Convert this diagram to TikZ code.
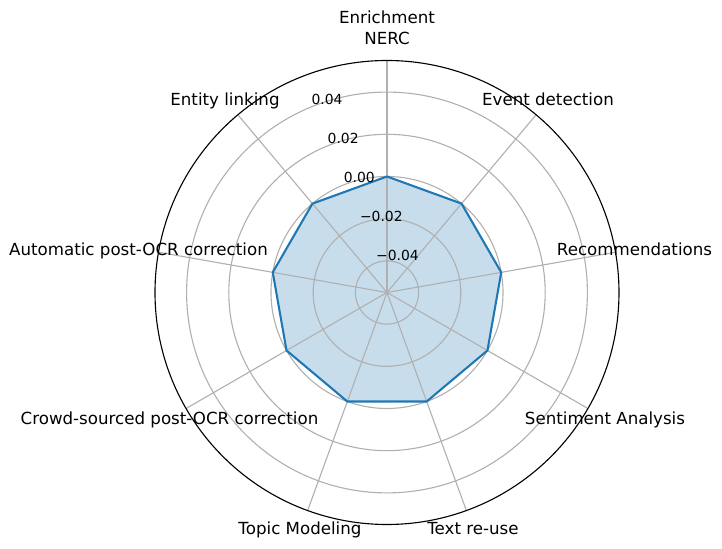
\documentclass[tikz,border=0pt]{standalone}
\usepackage{fontspec}
\setmainfont{DejaVu Sans}
\definecolor{mplblue}{HTML}{1F77B4}
\definecolor{gridgray}{HTML}{B0B0B0}
\colorlet{lightblue}{mplblue!25}
\usetikzlibrary{positioning}
\tikzstyle{gridline}=[draw=gridgray, line width=0.8pt]
\tikzstyle{axislabel}=[font=\fontsize{12}{15.6}\selectfont, anchor=base, inner sep=0pt]
\tikzstyle{ticklabel}=[font=\fontsize{10}{12}\selectfont, anchor=base west, inner sep=0pt, xshift=0.72pt, yshift=1.8pt]

\begin{document}
\begin{tikzpicture}[x=0.72pt, y=0.72pt]
  \useasboundingbox (-387,-256.5) rectangle (335,292.5);
  \coordinate (o) at (0,0);

  % values, all 0.00
  \foreach \a [count=\i] in {90,50,...,-230}
    \coordinate (p\i) at (\a:116);

  \fill[lightblue] (p1) -- (p2) -- (p3) -- (p4) -- (p5) -- (p6) -- (p7) -- (p8) -- (p9) -- cycle;

  \foreach \r in {31.6,73.8,116,158.2,200.4}
    \draw[gridline] (o) circle[radius=\r];
  \foreach \a in {90,50,...,-230}
    \draw[gridline] (o) -- (\a:232);

  \draw[mplblue, line width=1.5pt, line join=round]
    (p1) -- (p2) -- (p3) -- (p4) -- (p5) -- (p6) -- (p7) -- (p8) -- (p9) -- cycle;
  \draw[line width=0.8pt] (o) circle[radius=232];

  \node[ticklabel] (m4) at (112.5:31.6) {−0.04};
  \node[ticklabel] (m2) at (112.5:73.8) {−0.02};
  \node[ticklabel] (z0) at (112.5:116) {0.00};
  \node[ticklabel] (t2) at (112.5:158.2) {0.02};
  \node[ticklabel] (t4) at (112.5:200.4) {0.04};

  \node[axislabel, anchor=north, align=center] (nerc) at (0,282.3) {Enrichment\\NERC};
  \node[axislabel] (event) at (161,186.8) {Event detection};
  \node[axislabel] (recom) at (247.5,36.8) {Recommendations};
  \node[axislabel] (senti) at (218,-132.5) {Sentiment Analysis};
  \node[axislabel] (reuse) at (86,-242.5) {Text re-use};
  \node[axislabel] (topic) at (-87,-242.5) {Topic Modeling};
  \node[axislabel] (crowd) at (-217.5,-132.5) {Crowd-sourced post-OCR correction};
  \node[axislabel] (auto) at (-248.5,36.8) {Automatic post-OCR correction};
  \node[axislabel] (link) at (-162,186.8) {Entity linking};
\end{tikzpicture}
\end{document}
